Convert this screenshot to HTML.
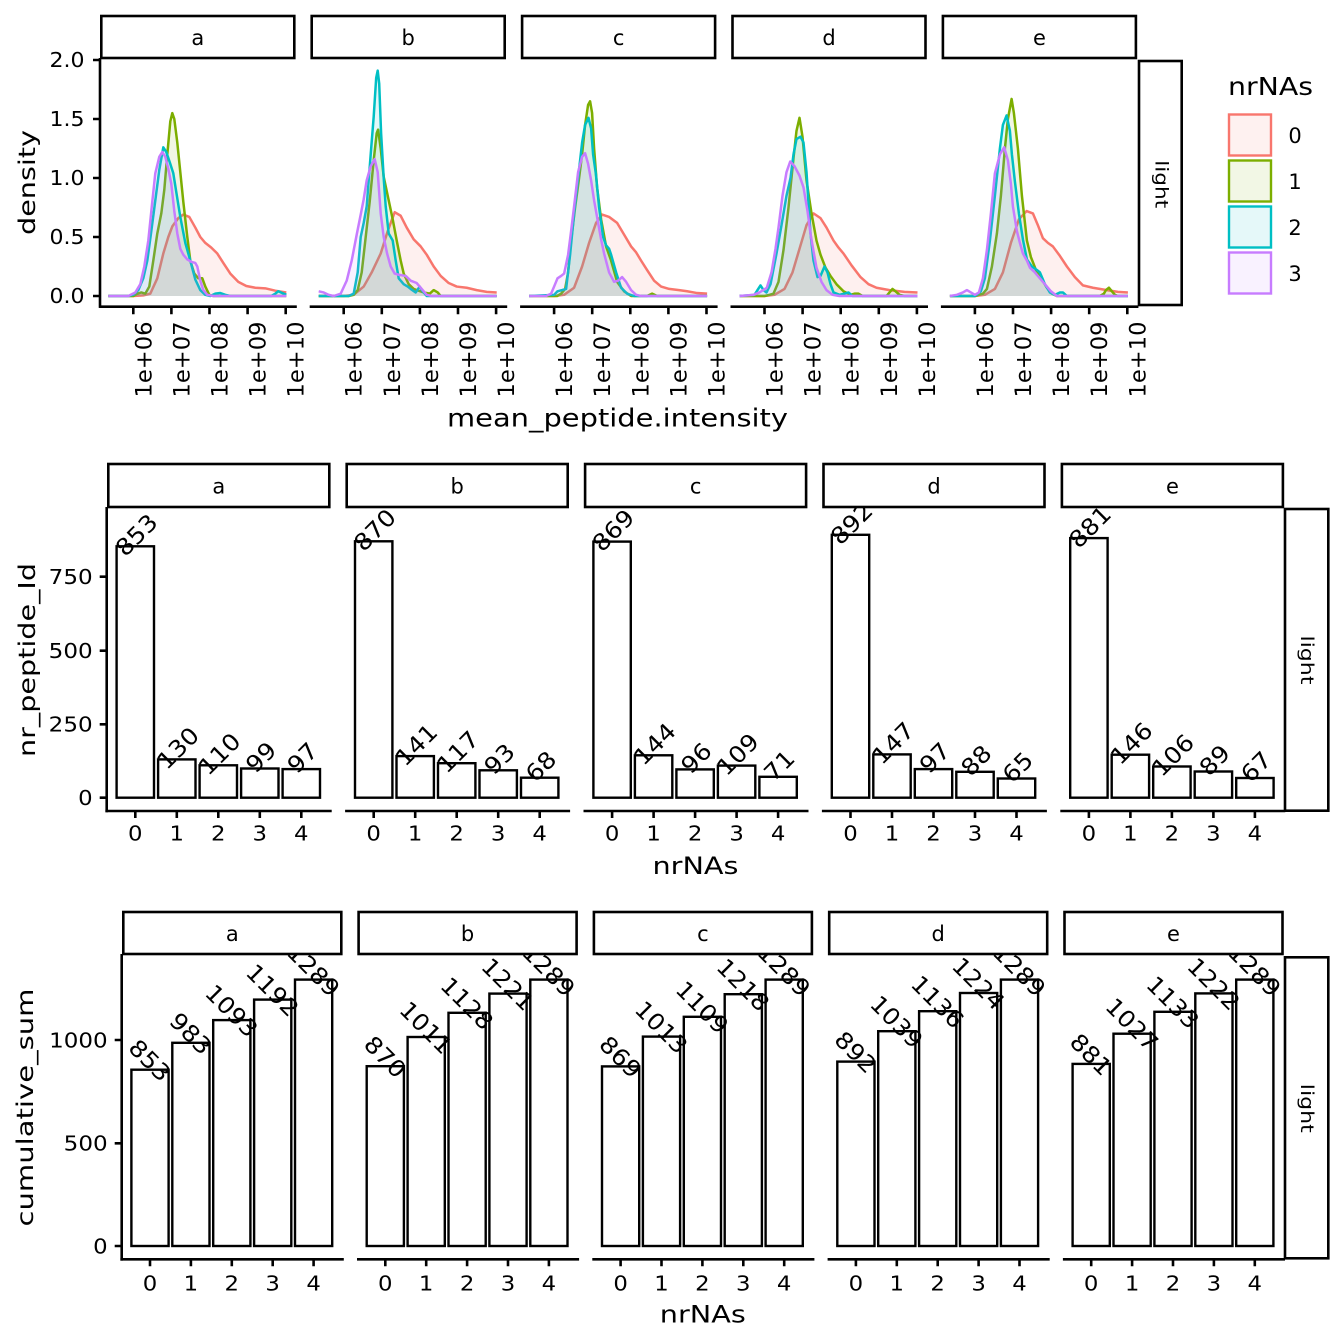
<!DOCTYPE html>
<html><head><meta charset="utf-8"><style>
html,body{margin:0;padding:0;background:#fff}
svg{display:block}
text{font-family:"DejaVu Sans","Liberation Sans",sans-serif;fill:#000}
.ax{stroke:#000;stroke-width:2.6;fill:none}
.sb{fill:#fff;stroke:#000;stroke-width:2.6}
.bar{fill:#fff;stroke:#000;stroke-width:2.4}
.t18{font-size:20px}
.t20{font-size:21px}
.t22{font-size:22.5px}
.bl{font-size:23px;text-anchor:middle}
.m{text-anchor:middle}
.e{text-anchor:end}
.f0{fill:#F8766D;fill-opacity:.11;stroke:none}
.f1{fill:#7CAE00;fill-opacity:.11;stroke:none}
.f2{fill:#00BFC4;fill-opacity:.11;stroke:none}
.f3{fill:#C77CFF;fill-opacity:.11;stroke:none}
.l0,.l1,.l2,.l3{fill:none;stroke-width:2.5;vector-effect:non-scaling-stroke;stroke-linejoin:round}
.l0{stroke:#F8766D}.l1{stroke:#7CAE00}.l2{stroke:#00BFC4}.l3{stroke:#C77CFF}
</style></head><body>
<svg width="1344" height="1344" viewBox="0 0 1344 1344" xmlns="http://www.w3.org/2000/svg">
<rect width="1344" height="1344" fill="#fff"/>
<defs>
<clipPath id="cm0"><rect x="108.3" y="507" width="221" height="304"/></clipPath>
<clipPath id="cm1"><rect x="346.7" y="507" width="221" height="304"/></clipPath>
<clipPath id="cm2"><rect x="585.1" y="507" width="221" height="304"/></clipPath>
<clipPath id="cm3"><rect x="823.5" y="507" width="221" height="304"/></clipPath>
<clipPath id="cm4"><rect x="1061.9" y="507" width="221" height="304"/></clipPath>
<clipPath id="cb0"><rect x="123.3" y="954" width="218" height="305"/></clipPath>
<clipPath id="cb1"><rect x="358.6" y="954" width="218" height="305"/></clipPath>
<clipPath id="cb2"><rect x="593.9" y="954" width="218" height="305"/></clipPath>
<clipPath id="cb3"><rect x="829.2" y="954" width="218" height="305"/></clipPath>
<clipPath id="cb4"><rect x="1064.5" y="954" width="218" height="305"/></clipPath>
</defs>

<!-- ================= TOP PLOT ================= -->
<g>
<rect class="sb" x="101.3" y="16" width="193" height="42"/>
<rect class="sb" x="311.7" y="16" width="193" height="42"/>
<rect class="sb" x="522.1" y="16" width="193" height="42"/>
<rect class="sb" x="732.5" y="16" width="193" height="42"/>
<rect class="sb" x="942.9" y="16" width="193" height="42"/>
<text class="t20 m" x="197.8" y="45">a</text>
<text class="t20 m" x="408.2" y="45">b</text>
<text class="t20 m" x="618.6" y="45">c</text>
<text class="t20 m" x="829" y="45">d</text>
<text class="t20 m" x="1039.4" y="45">e</text>
<rect class="sb" x="1139" y="61" width="42.7" height="244"/>
<text transform="translate(1155.5,184.2) rotate(90)" class="m" style="font-size:18px" textLength="48" lengthAdjust="spacingAndGlyphs">light</text>

<!-- density curves -->
<g transform="translate(133.3,296) scale(1,-118)">
<polygon class="f0" points="-25,0 0,0 10,0.005 17,0.02 24,0.15 30,0.36 35,0.5 39,0.59 45,0.66 50,0.69 56,0.67 62,0.58 67,0.5 72,0.45 78,0.41 84,0.36 90,0.28 97,0.19 105,0.12 113,0.085 122,0.07 132,0.065 142,0.045 153,0.03 153,0"/>
<polyline class="l0" points="-25,0 0,0 10,0.005 17,0.02 24,0.15 30,0.36 35,0.5 39,0.59 45,0.66 50,0.69 56,0.67 62,0.58 67,0.5 72,0.45 78,0.41 84,0.36 90,0.28 97,0.19 105,0.12 113,0.085 122,0.07 132,0.065 142,0.045 153,0.03"/>
<polygon class="f1" points="-25,0 0,0 4,0.02 8,0.03 12,0.02 16,0.08 20,0.3 24,0.53 28,0.7 31,0.9 34,1.2 37,1.48 39,1.55 41,1.5 44,1.3 47,1.05 50,0.8 54,0.5 57,0.3 61,0.19 65,0.15 69,0.15 72,0.08 76,0.01 80,0 153,0"/>
<polyline class="l1" points="-25,0 0,0 4,0.02 8,0.03 12,0.02 16,0.08 20,0.3 24,0.53 28,0.7 31,0.9 34,1.2 37,1.48 39,1.55 41,1.5 44,1.3 47,1.05 50,0.8 54,0.5 57,0.3 61,0.19 65,0.15 69,0.15 72,0.08 76,0.01 80,0 153,0"/>
<polygon class="f2" points="-25,0 -5,0 0,0.01 5,0.05 10,0.15 14,0.3 18,0.55 22,0.81 26,1.07 30,1.26 33,1.22 37,1.12 40,1.04 43,0.88 47,0.67 52,0.45 57,0.3 62,0.14 67,0.05 72,0.01 77,0 82,0.02 87,0.025 92,0.01 97,0 138,0 142,0.02 145,0.04 149,0.025 153,0.01 153,0"/>
<polyline class="l2" points="-25,0 -5,0 0,0.01 5,0.05 10,0.15 14,0.3 18,0.55 22,0.81 26,1.07 30,1.26 33,1.22 37,1.12 40,1.04 43,0.88 47,0.67 52,0.45 57,0.3 62,0.14 67,0.05 72,0.01 77,0 82,0.02 87,0.025 92,0.01 97,0 138,0 142,0.02 145,0.04 149,0.025 153,0.01"/>
<polygon class="f3" points="-25,0 -5,0 2,0.03 7,0.1 11,0.25 15,0.47 19,0.8 22,1.04 26,1.18 29,1.22 32,1.18 35,1.08 38,0.95 41,0.72 44,0.53 47,0.4 50,0.35 54,0.31 58,0.29 62,0.28 64,0.25 67,0.13 70,0.05 74,0.01 80,0 153,0"/>
<polyline class="l3" points="-25,0 -5,0 2,0.03 7,0.1 11,0.25 15,0.47 19,0.8 22,1.04 26,1.18 29,1.22 32,1.18 35,1.08 38,0.95 41,0.72 44,0.53 47,0.4 50,0.35 54,0.31 58,0.29 62,0.28 64,0.25 67,0.13 70,0.05 74,0.01 80,0 153,0"/>
</g>
<g transform="translate(343.7,296) scale(1,-118)">
<polygon class="f0" points="-25,0 0,0 10,0.01 20,0.08 28,0.2 37,0.36 44,0.55 51,0.71 57,0.68 63,0.58 70,0.48 77,0.42 83,0.35 90,0.25 97,0.17 105,0.11 113,0.08 123,0.07 133,0.05 143,0.035 153,0.03 153,0"/>
<polyline class="l0" points="-25,0 0,0 10,0.01 20,0.08 28,0.2 37,0.36 44,0.55 51,0.71 57,0.68 63,0.58 70,0.48 77,0.42 83,0.35 90,0.25 97,0.17 105,0.11 113,0.08 123,0.07 133,0.05 143,0.035 153,0.03"/>
<polygon class="f1" points="-25,0 5,0 10,0.01 14,0.05 18,0.2 22,0.5 26,0.8 30,1.15 33,1.38 34.4,1.41 37,1.25 40,1.01 45,0.81 49,0.65 53,0.47 57,0.3 60,0.19 65,0.1 70,0.06 73,0.05 80,0.03 86,0.02 90,0.05 94,0.03 97,0 153,0"/>
<polyline class="l1" points="-25,0 5,0 10,0.01 14,0.05 18,0.2 22,0.5 26,0.8 30,1.15 33,1.38 34.4,1.41 37,1.25 40,1.01 45,0.81 49,0.65 53,0.47 57,0.3 60,0.19 65,0.1 70,0.06 73,0.05 80,0.03 86,0.02 90,0.05 94,0.03 97,0 153,0"/>
<polygon class="f2" points="-25,0 5,0 10,0.02 14,0.2 17,0.5 20,0.62 23,0.76 27,1.2 30,1.52 32.5,1.85 34,1.91 35.5,1.8 37.4,1.38 40,1 42,0.76 45,0.53 47,0.5 49,0.47 52,0.3 55,0.15 60,0.1 64,0.08 67,0.06 72,0.03 76,0.08 79,0.04 83,0 153,0"/>
<polyline class="l2" points="-25,0 5,0 10,0.02 14,0.2 17,0.5 20,0.62 23,0.76 27,1.2 30,1.52 32.5,1.85 34,1.91 35.5,1.8 37.4,1.38 40,1 42,0.76 45,0.53 47,0.5 49,0.47 52,0.3 55,0.15 60,0.1 64,0.08 67,0.06 72,0.03 76,0.08 79,0.04 83,0 153,0"/>
<polygon class="f3" points="-25,0.04 -20,0.03 -15,0.01 -10,0 -3,0.02 3,0.13 8,0.3 13,0.52 17,0.69 20,0.82 23,0.98 27,1.1 31,1.16 34,1.05 37,0.7 40,0.5 43.4,0.36 47,0.25 51,0.19 55,0.18 62,0.17 67,0.13 73,0.11 78,0.06 83,0.01 88,0 153,0 -25,0"/>
<polyline class="l3" points="-25,0.04 -20,0.03 -15,0.01 -10,0 -3,0.02 3,0.13 8,0.3 13,0.52 17,0.69 20,0.82 23,0.98 27,1.1 31,1.16 34,1.05 37,0.7 40,0.5 43.4,0.36 47,0.25 51,0.19 55,0.18 62,0.17 67,0.13 73,0.11 78,0.06 83,0.01 88,0 153,0"/>
</g>
<g transform="translate(554.1,296) scale(1,-118)">
<polygon class="f0" points="-25,0 0,0 10,0.01 20,0.07 28,0.25 35,0.45 42,0.62 48,0.69 55,0.67 63,0.62 70,0.52 77,0.42 82,0.37 87,0.3 93,0.22 100,0.13 107,0.08 115,0.06 125,0.05 133,0.04 143,0.025 153,0.02 153,0"/>
<polyline class="l0" points="-25,0 0,0 10,0.01 20,0.07 28,0.25 35,0.45 42,0.62 48,0.69 55,0.67 63,0.62 70,0.52 77,0.42 82,0.37 87,0.3 93,0.22 100,0.13 107,0.08 115,0.06 125,0.05 133,0.04 143,0.025 153,0.02"/>
<polygon class="f1" points="-25,0 3,0 7,0.02 11,0.06 14,0.2 17,0.47 21,0.75 25,1 28,1.2 31,1.45 34,1.62 36,1.65 38,1.55 40,1.25 43,0.92 47,0.65 52,0.42 57,0.3 63,0.12 70,0.04 77,0 93,0 98,0.02 103,0 153,0"/>
<polyline class="l1" points="-25,0 3,0 7,0.02 11,0.06 14,0.2 17,0.47 21,0.75 25,1 28,1.2 31,1.45 34,1.62 36,1.65 38,1.55 40,1.25 43,0.92 47,0.65 52,0.42 57,0.3 63,0.12 70,0.04 77,0 93,0 98,0.02 103,0 153,0"/>
<polygon class="f2" points="-25,0 0,0.01 3.4,0.04 8,0.05 12,0.06 16,0.35 20,0.7 24,1 28,1.3 31,1.45 34.4,1.51 37,1.42 39,1.2 41.7,1.04 45,0.75 49,0.5 52,0.43 55,0.4 57,0.35 62,0.2 67,0.07 73,0.02 80,0 153,0"/>
<polyline class="l2" points="-25,0 0,0.01 3.4,0.04 8,0.05 12,0.06 16,0.35 20,0.7 24,1 28,1.3 31,1.45 34.4,1.51 37,1.42 39,1.2 41.7,1.04 45,0.75 49,0.5 52,0.43 55,0.4 57,0.35 62,0.2 67,0.07 73,0.02 80,0 153,0"/>
<polygon class="f3" points="-25,0 -8,0 -3,0.02 0,0.08 3.4,0.15 7,0.17 10,0.19 14,0.35 17,0.55 20,0.76 24,1.05 28,1.18 31,1.21 34,1.12 37,0.98 40,0.81 44,0.62 47,0.48 50,0.36 55,0.2 60,0.12 64,0.13 68,0.16 72,0.12 77,0.05 82,0.01 87,0 153,0"/>
<polyline class="l3" points="-25,0 -8,0 -3,0.02 0,0.08 3.4,0.15 7,0.17 10,0.19 14,0.35 17,0.55 20,0.76 24,1.05 28,1.18 31,1.21 34,1.12 37,0.98 40,0.81 44,0.62 47,0.48 50,0.36 55,0.2 60,0.12 64,0.13 68,0.16 72,0.12 77,0.05 82,0.01 87,0 153,0"/>
</g>
<g transform="translate(764.5,296) scale(1,-118)">
<polygon class="f0" points="-25,0 0,0 10,0.01 20,0.06 28,0.2 35,0.4 42,0.6 49,0.7 56,0.66 62,0.58 69,0.47 74,0.41 79,0.36 87,0.26 96,0.16 104,0.1 112,0.07 125,0.05 140,0.035 153,0.03 153,0"/>
<polyline class="l0" points="-25,0 0,0 10,0.01 20,0.06 28,0.2 35,0.4 42,0.6 49,0.7 56,0.66 62,0.58 69,0.47 74,0.41 79,0.36 87,0.26 96,0.16 104,0.1 112,0.07 125,0.05 140,0.035 153,0.03"/>
<polygon class="f1" points="-25,0 0,0 5,0.01 9,0.02 14,0.12 19,0.39 24,0.75 29,1.17 32,1.4 35,1.51 38,1.35 42,0.98 47,0.7 52,0.47 56,0.35 61,0.24 66,0.17 72,0.1 79,0.04 86,0.01 90,0.02 94,0.02 98,0 122,0 125,0.03 128,0.06 131,0.04 135,0.01 140,0 153,0"/>
<polyline class="l1" points="-25,0 0,0 5,0.01 9,0.02 14,0.12 19,0.39 24,0.75 29,1.17 32,1.4 35,1.51 38,1.35 42,0.98 47,0.7 52,0.47 56,0.35 61,0.24 66,0.17 72,0.1 79,0.04 86,0.01 90,0.02 94,0.02 98,0 122,0 125,0.03 128,0.06 131,0.04 135,0.01 140,0 153,0"/>
<polygon class="f2" points="-25,0 -10,0.01 -7,0.05 -4,0.09 -1,0.05 2,0.03 6,0.1 12,0.36 17,0.6 22,0.85 26,1 29,1.2 32,1.33 36,1.35 39,1.3 42,1.05 46,0.53 49,0.3 53,0.16 56,0.17 60,0.25 63,0.2 66,0.1 69,0.03 75,0.01 80,0.02 84,0.03 88,0 153,0"/>
<polyline class="l2" points="-25,0 -10,0.01 -7,0.05 -4,0.09 -1,0.05 2,0.03 6,0.1 12,0.36 17,0.6 22,0.85 26,1 29,1.2 32,1.33 36,1.35 39,1.3 42,1.05 46,0.53 49,0.3 53,0.16 56,0.17 60,0.25 63,0.2 66,0.1 69,0.03 75,0.01 80,0.02 84,0.03 88,0 153,0"/>
<polygon class="f3" points="-25,0 -11,0.01 -5,0.03 2.3,0.07 7,0.2 11,0.4 14,0.58 18,0.85 22,1.05 25.7,1.14 30,1.1 35,1.02 39,0.92 43,0.72 46,0.53 49,0.38 52,0.24 57,0.12 62,0.05 68,0.01 75,0 153,0"/>
<polyline class="l3" points="-25,0 -11,0.01 -5,0.03 2.3,0.07 7,0.2 11,0.4 14,0.58 18,0.85 22,1.05 25.7,1.14 30,1.1 35,1.02 39,0.92 43,0.72 46,0.53 49,0.38 52,0.24 57,0.12 62,0.05 68,0.01 75,0 153,0"/>
</g>
<g transform="translate(974.9,296) scale(1,-118)">
<polygon class="f0" points="-25,0 0,0 10,0.01 20,0.06 28,0.2 36,0.45 44,0.65 51.7,0.72 58,0.7 63,0.6 68,0.49 73,0.45 78,0.42 85,0.34 92,0.25 100,0.16 108,0.09 118,0.07 132,0.05 143,0.035 153,0.03 153,0"/>
<polyline class="l0" points="-25,0 0,0 10,0.01 20,0.06 28,0.2 36,0.45 44,0.65 51.7,0.72 58,0.7 63,0.6 68,0.49 73,0.45 78,0.42 85,0.34 92,0.25 100,0.16 108,0.09 118,0.07 132,0.05 143,0.035 153,0.03"/>
<polygon class="f1" points="-25,0 0,0 4,0.01 8,0.02 12,0.06 17,0.25 22,0.53 26,0.85 30,1.25 33,1.5 36.7,1.67 39,1.55 41,1.4 43,1.25 47,0.85 52,0.47 56,0.33 62,0.2 67,0.14 72,0.07 77,0.02 82,0 125,0 129,0.02 131,0.05 134,0.07 137,0.04 140,0.01 143,0 153,0"/>
<polyline class="l1" points="-25,0 0,0 4,0.01 8,0.02 12,0.06 17,0.25 22,0.53 26,0.85 30,1.25 33,1.5 36.7,1.67 39,1.55 41,1.4 43,1.25 47,0.85 52,0.47 56,0.33 62,0.2 67,0.14 72,0.07 77,0.02 82,0 125,0 129,0.02 131,0.05 134,0.07 137,0.04 140,0.01 143,0 153,0"/>
<polygon class="f2" points="-25,0 0,0 1.7,0.01 6,0.04 10,0.15 15,0.47 20,0.85 25,1.25 28,1.45 31.7,1.53 35,1.4 37,1.2 40,0.97 44,0.7 48,0.48 52,0.31 57,0.25 62,0.22 65,0.2 70,0.1 75,0.03 80,0.01 85,0.03 88,0.03 92,0 153,0"/>
<polyline class="l2" points="-25,0 0,0 1.7,0.01 6,0.04 10,0.15 15,0.47 20,0.85 25,1.25 28,1.45 31.7,1.53 35,1.4 37,1.2 40,0.97 44,0.7 48,0.48 52,0.31 57,0.25 62,0.22 65,0.2 70,0.1 75,0.03 80,0.01 85,0.03 88,0.03 92,0 153,0"/>
<polygon class="f3" points="-25,0 -18,0.01 -12,0.03 -8,0.05 -4,0.03 0,0.01 4,0.03 8,0.15 12,0.39 16,0.7 20,1.04 25,1.2 29.3,1.26 33,1.15 36,0.95 38,0.76 42,0.55 45,0.45 48,0.36 52,0.3 55,0.24 60,0.2 65,0.15 70,0.1 76,0.04 82,0 153,0"/>
<polyline class="l3" points="-25,0 -18,0.01 -12,0.03 -8,0.05 -4,0.03 0,0.01 4,0.03 8,0.15 12,0.39 16,0.7 20,1.04 25,1.2 29.3,1.26 33,1.15 36,0.95 38,0.76 42,0.55 45,0.45 48,0.36 52,0.3 55,0.24 60,0.2 65,0.15 70,0.1 76,0.04 82,0 153,0"/>
</g>

<!-- top axes -->
<path class="ax" d="M100,58V307.9 M93,60H100 M93,119H100 M93,178H100 M93,237H100 M93,296H100"/>
<path class="ax" d="M99.3,306.7H296.8 M309.7,306.7H507.2 M520.1,306.7H717.6 M730.5,306.7H928 M940.9,306.7H1138.4"/>
<path class="ax" d="M133.3,306.7v7.5 M171.4,306.7v7.5 M209.5,306.7v7.5 M247.6,306.7v7.5 M285.7,306.7v7.5 M343.7,306.7v7.5 M381.8,306.7v7.5 M419.9,306.7v7.5 M458,306.7v7.5 M496.1,306.7v7.5 M554.1,306.7v7.5 M592.2,306.7v7.5 M630.3,306.7v7.5 M668.4,306.7v7.5 M706.5,306.7v7.5 M764.5,306.7v7.5 M802.6,306.7v7.5 M840.7,306.7v7.5 M878.8,306.7v7.5 M916.9,306.7v7.5 M974.9,306.7v7.5 M1013,306.7v7.5 M1051.1,306.7v7.5 M1089.2,306.7v7.5 M1127.3,306.7v7.5"/>
<g class="t18 e">
<text x="84.5" y="67.2" textLength="35" lengthAdjust="spacingAndGlyphs">2.0</text>
<text x="84.5" y="126.2" textLength="35" lengthAdjust="spacingAndGlyphs">1.5</text>
<text x="84.5" y="185.2" textLength="35" lengthAdjust="spacingAndGlyphs">1.0</text>
<text x="84.5" y="244.2" textLength="35" lengthAdjust="spacingAndGlyphs">0.5</text>
<text x="84.5" y="303.2" textLength="35" lengthAdjust="spacingAndGlyphs">0.0</text>
</g>
<g class="t22 e">
<text transform="translate(151.3,321.5) rotate(-90)" textLength="76" lengthAdjust="spacingAndGlyphs">1e+06</text>
<text transform="translate(189.4,321.5) rotate(-90)" textLength="76" lengthAdjust="spacingAndGlyphs">1e+07</text>
<text transform="translate(227.5,321.5) rotate(-90)" textLength="76" lengthAdjust="spacingAndGlyphs">1e+08</text>
<text transform="translate(265.6,321.5) rotate(-90)" textLength="76" lengthAdjust="spacingAndGlyphs">1e+09</text>
<text transform="translate(303.7,321.5) rotate(-90)" textLength="76" lengthAdjust="spacingAndGlyphs">1e+10</text>
<text transform="translate(361.7,321.5) rotate(-90)" textLength="76" lengthAdjust="spacingAndGlyphs">1e+06</text>
<text transform="translate(399.8,321.5) rotate(-90)" textLength="76" lengthAdjust="spacingAndGlyphs">1e+07</text>
<text transform="translate(437.9,321.5) rotate(-90)" textLength="76" lengthAdjust="spacingAndGlyphs">1e+08</text>
<text transform="translate(476,321.5) rotate(-90)" textLength="76" lengthAdjust="spacingAndGlyphs">1e+09</text>
<text transform="translate(514.1,321.5) rotate(-90)" textLength="76" lengthAdjust="spacingAndGlyphs">1e+10</text>
<text transform="translate(572.1,321.5) rotate(-90)" textLength="76" lengthAdjust="spacingAndGlyphs">1e+06</text>
<text transform="translate(610.2,321.5) rotate(-90)" textLength="76" lengthAdjust="spacingAndGlyphs">1e+07</text>
<text transform="translate(648.3,321.5) rotate(-90)" textLength="76" lengthAdjust="spacingAndGlyphs">1e+08</text>
<text transform="translate(686.4,321.5) rotate(-90)" textLength="76" lengthAdjust="spacingAndGlyphs">1e+09</text>
<text transform="translate(724.5,321.5) rotate(-90)" textLength="76" lengthAdjust="spacingAndGlyphs">1e+10</text>
<text transform="translate(782.5,321.5) rotate(-90)" textLength="76" lengthAdjust="spacingAndGlyphs">1e+06</text>
<text transform="translate(820.6,321.5) rotate(-90)" textLength="76" lengthAdjust="spacingAndGlyphs">1e+07</text>
<text transform="translate(858.7,321.5) rotate(-90)" textLength="76" lengthAdjust="spacingAndGlyphs">1e+08</text>
<text transform="translate(896.8,321.5) rotate(-90)" textLength="76" lengthAdjust="spacingAndGlyphs">1e+09</text>
<text transform="translate(934.9,321.5) rotate(-90)" textLength="76" lengthAdjust="spacingAndGlyphs">1e+10</text>
<text transform="translate(992.9,321.5) rotate(-90)" textLength="76" lengthAdjust="spacingAndGlyphs">1e+06</text>
<text transform="translate(1031,321.5) rotate(-90)" textLength="76" lengthAdjust="spacingAndGlyphs">1e+07</text>
<text transform="translate(1069.1,321.5) rotate(-90)" textLength="76" lengthAdjust="spacingAndGlyphs">1e+08</text>
<text transform="translate(1107.2,321.5) rotate(-90)" textLength="76" lengthAdjust="spacingAndGlyphs">1e+09</text>
<text transform="translate(1145.3,321.5) rotate(-90)" textLength="76" lengthAdjust="spacingAndGlyphs">1e+10</text>
</g>
<text transform="translate(35,182.5) rotate(-90)" class="m" style="font-size:23px" textLength="105" lengthAdjust="spacingAndGlyphs">density</text>
<text x="617.5" y="426.5" class="m" style="font-size:25px" textLength="341" lengthAdjust="spacingAndGlyphs">mean_peptide.intensity</text>

<!-- legend -->
<text x="1228" y="95" style="font-size:24.5px" textLength="85" lengthAdjust="spacingAndGlyphs">nrNAs</text>
<rect x="1229" y="114.5" width="42" height="41" fill="#F8766D" fill-opacity=".1" stroke="#F8766D" stroke-width="2.4"/>
<rect x="1229" y="160.5" width="42" height="41" fill="#7CAE00" fill-opacity=".1" stroke="#7CAE00" stroke-width="2.4"/>
<rect x="1229" y="206.5" width="42" height="41" fill="#00BFC4" fill-opacity=".1" stroke="#00BFC4" stroke-width="2.4"/>
<rect x="1229" y="252.5" width="42" height="41" fill="#C77CFF" fill-opacity=".1" stroke="#C77CFF" stroke-width="2.4"/>
<g class="m" style="font-size:21px">
<text x="1295" y="143">0</text>
<text x="1295" y="189">1</text>
<text x="1295" y="235">2</text>
<text x="1295" y="281">3</text>
</g>
</g>

<!-- ================= MIDDLE PLOT ================= -->
<g>
<rect class="sb" x="108.3" y="464" width="221" height="43"/>
<rect class="sb" x="346.7" y="464" width="221" height="43"/>
<rect class="sb" x="585.1" y="464" width="221" height="43"/>
<rect class="sb" x="823.5" y="464" width="221" height="43"/>
<rect class="sb" x="1061.9" y="464" width="221" height="43"/>
<text class="t20 m" x="218.8" y="493.5">a</text>
<text class="t20 m" x="457.2" y="493.5">b</text>
<text class="t20 m" x="695.6" y="493.5">c</text>
<text class="t20 m" x="934" y="493.5">d</text>
<text class="t20 m" x="1172.4" y="493.5">e</text>
<rect class="sb" x="1285" y="509" width="43.3" height="301.7"/>
<text transform="translate(1300.8,660) rotate(90)" class="m" style="font-size:18px" textLength="49" lengthAdjust="spacingAndGlyphs">light</text>

<!-- bars -->
<rect class="bar" x="116.6" y="546.3" width="37.4" height="251.4"/>
<rect class="bar" x="158.1" y="759.4" width="37.4" height="38.3"/>
<rect class="bar" x="199.6" y="765.3" width="37.4" height="32.4"/>
<rect class="bar" x="241.1" y="768.5" width="37.4" height="29.2"/>
<rect class="bar" x="282.6" y="769.1" width="37.4" height="28.6"/>
<rect class="bar" x="355" y="541.3" width="37.4" height="256.4"/>
<rect class="bar" x="396.5" y="756.1" width="37.4" height="41.6"/>
<rect class="bar" x="438" y="763.2" width="37.4" height="34.5"/>
<rect class="bar" x="479.5" y="770.3" width="37.4" height="27.4"/>
<rect class="bar" x="521" y="777.7" width="37.4" height="20"/>
<rect class="bar" x="593.4" y="541.6" width="37.4" height="256.1"/>
<rect class="bar" x="634.9" y="755.3" width="37.4" height="42.4"/>
<rect class="bar" x="676.4" y="769.4" width="37.4" height="28.3"/>
<rect class="bar" x="717.9" y="765.6" width="37.4" height="32.1"/>
<rect class="bar" x="759.4" y="776.8" width="37.4" height="20.9"/>
<rect class="bar" x="831.8" y="534.8" width="37.4" height="262.9"/>
<rect class="bar" x="873.3" y="754.4" width="37.4" height="43.3"/>
<rect class="bar" x="914.8" y="769.1" width="37.4" height="28.6"/>
<rect class="bar" x="956.3" y="771.8" width="37.4" height="25.9"/>
<rect class="bar" x="997.8" y="778.5" width="37.4" height="19.2"/>
<rect class="bar" x="1070.2" y="538.1" width="37.4" height="259.6"/>
<rect class="bar" x="1111.7" y="754.7" width="37.4" height="43"/>
<rect class="bar" x="1153.2" y="766.5" width="37.4" height="31.2"/>
<rect class="bar" x="1194.7" y="771.5" width="37.4" height="26.2"/>
<rect class="bar" x="1236.2" y="778" width="37.4" height="19.7"/>

<!-- bar labels -->
<g clip-path="url(#cm0)">
<text class="bl" transform="translate(136.3,534.8) rotate(-45)" y="8.3" textLength="48" lengthAdjust="spacingAndGlyphs">853</text>
<text class="bl" transform="translate(177.8,747.9) rotate(-45)" y="8.3" textLength="48" lengthAdjust="spacingAndGlyphs">130</text>
<text class="bl" transform="translate(219.3,753.8) rotate(-45)" y="8.3" textLength="48" lengthAdjust="spacingAndGlyphs">110</text>
<text class="bl" transform="translate(260.8,757) rotate(-45)" y="8.3" textLength="32" lengthAdjust="spacingAndGlyphs">99</text>
<text class="bl" transform="translate(302.3,757.6) rotate(-45)" y="8.3" textLength="32" lengthAdjust="spacingAndGlyphs">97</text>
</g>
<g clip-path="url(#cm1)">
<text class="bl" transform="translate(374.7,529.8) rotate(-45)" y="8.3" textLength="48" lengthAdjust="spacingAndGlyphs">870</text>
<text class="bl" transform="translate(416.2,744.6) rotate(-45)" y="8.3" textLength="48" lengthAdjust="spacingAndGlyphs">141</text>
<text class="bl" transform="translate(457.7,751.7) rotate(-45)" y="8.3" textLength="48" lengthAdjust="spacingAndGlyphs">117</text>
<text class="bl" transform="translate(499.2,758.8) rotate(-45)" y="8.3" textLength="32" lengthAdjust="spacingAndGlyphs">93</text>
<text class="bl" transform="translate(540.7,766.2) rotate(-45)" y="8.3" textLength="32" lengthAdjust="spacingAndGlyphs">68</text>
</g>
<g clip-path="url(#cm2)">
<text class="bl" transform="translate(613.1,530.1) rotate(-45)" y="8.3" textLength="48" lengthAdjust="spacingAndGlyphs">869</text>
<text class="bl" transform="translate(654.6,743.8) rotate(-45)" y="8.3" textLength="48" lengthAdjust="spacingAndGlyphs">144</text>
<text class="bl" transform="translate(696.1,757.9) rotate(-45)" y="8.3" textLength="32" lengthAdjust="spacingAndGlyphs">96</text>
<text class="bl" transform="translate(737.6,754.1) rotate(-45)" y="8.3" textLength="48" lengthAdjust="spacingAndGlyphs">109</text>
<text class="bl" transform="translate(779.1,765.3) rotate(-45)" y="8.3" textLength="32" lengthAdjust="spacingAndGlyphs">71</text>
</g>
<g clip-path="url(#cm3)">
<text class="bl" transform="translate(851.5,523.3) rotate(-45)" y="8.3" textLength="48" lengthAdjust="spacingAndGlyphs">892</text>
<text class="bl" transform="translate(893,742.9) rotate(-45)" y="8.3" textLength="48" lengthAdjust="spacingAndGlyphs">147</text>
<text class="bl" transform="translate(934.5,757.6) rotate(-45)" y="8.3" textLength="32" lengthAdjust="spacingAndGlyphs">97</text>
<text class="bl" transform="translate(976,760.3) rotate(-45)" y="8.3" textLength="32" lengthAdjust="spacingAndGlyphs">88</text>
<text class="bl" transform="translate(1017.5,767) rotate(-45)" y="8.3" textLength="32" lengthAdjust="spacingAndGlyphs">65</text>
</g>
<g clip-path="url(#cm4)">
<text class="bl" transform="translate(1089.9,526.6) rotate(-45)" y="8.3" textLength="48" lengthAdjust="spacingAndGlyphs">881</text>
<text class="bl" transform="translate(1131.4,743.2) rotate(-45)" y="8.3" textLength="48" lengthAdjust="spacingAndGlyphs">146</text>
<text class="bl" transform="translate(1172.9,755) rotate(-45)" y="8.3" textLength="48" lengthAdjust="spacingAndGlyphs">106</text>
<text class="bl" transform="translate(1214.4,760) rotate(-45)" y="8.3" textLength="32" lengthAdjust="spacingAndGlyphs">89</text>
<text class="bl" transform="translate(1255.9,766.5) rotate(-45)" y="8.3" textLength="32" lengthAdjust="spacingAndGlyphs">67</text>
</g>

<!-- middle axes -->
<path class="ax" d="M106.7,507V812.3 M99.7,576.7H106.7 M99.7,650.7H106.7 M99.7,724.3H106.7 M99.7,797.7H106.7"/>
<path class="ax" d="M105.4,811H331.7 M345.1,811H570.1 M583.5,811H808.5 M821.9,811H1046.9 M1060.3,811H1285.3"/>
<path class="ax" d="M135.3,811v7 M176.8,811v7 M218.3,811v7 M259.8,811v7 M301.3,811v7 M373.7,811v7 M415.2,811v7 M456.7,811v7 M498.2,811v7 M539.7,811v7 M612.1,811v7 M653.6,811v7 M695.1,811v7 M736.6,811v7 M778.1,811v7 M850.5,811v7 M892,811v7 M933.5,811v7 M975,811v7 M1016.5,811v7 M1088.9,811v7 M1130.4,811v7 M1171.9,811v7 M1213.4,811v7 M1254.9,811v7"/>
<g class="t18 e">
<text x="92.7" y="583.8" textLength="44" lengthAdjust="spacingAndGlyphs">750</text>
<text x="92.7" y="657.8" textLength="44" lengthAdjust="spacingAndGlyphs">500</text>
<text x="92.7" y="731.4" textLength="44" lengthAdjust="spacingAndGlyphs">250</text>
<text x="92.7" y="804.8" textLength="14.5" lengthAdjust="spacingAndGlyphs">0</text>
</g>
<g class="t18 m">
<text x="135.3" y="840.5" textLength="14.5" lengthAdjust="spacingAndGlyphs">0</text>
<text x="176.8" y="840.5" textLength="14.5" lengthAdjust="spacingAndGlyphs">1</text>
<text x="218.3" y="840.5" textLength="14.5" lengthAdjust="spacingAndGlyphs">2</text>
<text x="259.8" y="840.5" textLength="14.5" lengthAdjust="spacingAndGlyphs">3</text>
<text x="301.3" y="840.5" textLength="14.5" lengthAdjust="spacingAndGlyphs">4</text>
<text x="373.7" y="840.5" textLength="14.5" lengthAdjust="spacingAndGlyphs">0</text>
<text x="415.2" y="840.5" textLength="14.5" lengthAdjust="spacingAndGlyphs">1</text>
<text x="456.7" y="840.5" textLength="14.5" lengthAdjust="spacingAndGlyphs">2</text>
<text x="498.2" y="840.5" textLength="14.5" lengthAdjust="spacingAndGlyphs">3</text>
<text x="539.7" y="840.5" textLength="14.5" lengthAdjust="spacingAndGlyphs">4</text>
<text x="612.1" y="840.5" textLength="14.5" lengthAdjust="spacingAndGlyphs">0</text>
<text x="653.6" y="840.5" textLength="14.5" lengthAdjust="spacingAndGlyphs">1</text>
<text x="695.1" y="840.5" textLength="14.5" lengthAdjust="spacingAndGlyphs">2</text>
<text x="736.6" y="840.5" textLength="14.5" lengthAdjust="spacingAndGlyphs">3</text>
<text x="778.1" y="840.5" textLength="14.5" lengthAdjust="spacingAndGlyphs">4</text>
<text x="850.5" y="840.5" textLength="14.5" lengthAdjust="spacingAndGlyphs">0</text>
<text x="892" y="840.5" textLength="14.5" lengthAdjust="spacingAndGlyphs">1</text>
<text x="933.5" y="840.5" textLength="14.5" lengthAdjust="spacingAndGlyphs">2</text>
<text x="975" y="840.5" textLength="14.5" lengthAdjust="spacingAndGlyphs">3</text>
<text x="1016.5" y="840.5" textLength="14.5" lengthAdjust="spacingAndGlyphs">4</text>
<text x="1088.9" y="840.5" textLength="14.5" lengthAdjust="spacingAndGlyphs">0</text>
<text x="1130.4" y="840.5" textLength="14.5" lengthAdjust="spacingAndGlyphs">1</text>
<text x="1171.9" y="840.5" textLength="14.5" lengthAdjust="spacingAndGlyphs">2</text>
<text x="1213.4" y="840.5" textLength="14.5" lengthAdjust="spacingAndGlyphs">3</text>
<text x="1254.9" y="840.5" textLength="14.5" lengthAdjust="spacingAndGlyphs">4</text>
</g>
<text transform="translate(35,660) rotate(-90)" class="m" style="font-size:23px" textLength="194" lengthAdjust="spacingAndGlyphs">nr_peptide_Id</text>
<text x="695.5" y="874" class="m" style="font-size:24px" textLength="86" lengthAdjust="spacingAndGlyphs">nrNAs</text>
</g>

<!-- ================= BOTTOM PLOT ================= -->
<g>
<rect class="sb" x="123.3" y="912" width="218" height="42"/>
<rect class="sb" x="358.6" y="912" width="218" height="42"/>
<rect class="sb" x="593.9" y="912" width="218" height="42"/>
<rect class="sb" x="829.2" y="912" width="218" height="42"/>
<rect class="sb" x="1064.5" y="912" width="218" height="42"/>
<text class="t20 m" x="232.3" y="941">a</text>
<text class="t20 m" x="467.6" y="941">b</text>
<text class="t20 m" x="702.9" y="941">c</text>
<text class="t20 m" x="938.2" y="941">d</text>
<text class="t20 m" x="1173.5" y="941">e</text>
<rect class="sb" x="1285" y="957.3" width="43.3" height="301"/>
<text transform="translate(1300.8,1108.3) rotate(90)" class="m" style="font-size:18px" textLength="49" lengthAdjust="spacingAndGlyphs">light</text>

<rect class="bar" x="131.4" y="1069.7" width="37.2" height="176.3"/>
<rect class="bar" x="172.3" y="1042.8" width="37.2" height="203.2"/>
<rect class="bar" x="213.2" y="1020.1" width="37.2" height="225.9"/>
<rect class="bar" x="254.1" y="999.6" width="37.2" height="246.4"/>
<rect class="bar" x="295" y="979.6" width="37.2" height="266.4"/>
<rect class="bar" x="366.7" y="1066.2" width="37.2" height="179.8"/>
<rect class="bar" x="407.6" y="1037" width="37.2" height="209"/>
<rect class="bar" x="448.5" y="1012.8" width="37.2" height="233.2"/>
<rect class="bar" x="489.4" y="993.6" width="37.2" height="252.4"/>
<rect class="bar" x="530.3" y="979.6" width="37.2" height="266.4"/>
<rect class="bar" x="602" y="1066.4" width="37.2" height="179.6"/>
<rect class="bar" x="642.9" y="1036.6" width="37.2" height="209.4"/>
<rect class="bar" x="683.8" y="1016.8" width="37.2" height="229.2"/>
<rect class="bar" x="724.7" y="994.2" width="37.2" height="251.8"/>
<rect class="bar" x="765.6" y="979.6" width="37.2" height="266.4"/>
<rect class="bar" x="837.3" y="1061.6" width="37.2" height="184.4"/>
<rect class="bar" x="878.2" y="1031.2" width="37.2" height="214.8"/>
<rect class="bar" x="919.1" y="1011.2" width="37.2" height="234.8"/>
<rect class="bar" x="960" y="993" width="37.2" height="253"/>
<rect class="bar" x="1000.9" y="979.6" width="37.2" height="266.4"/>
<rect class="bar" x="1072.6" y="1063.9" width="37.2" height="182.1"/>
<rect class="bar" x="1113.5" y="1033.7" width="37.2" height="212.3"/>
<rect class="bar" x="1154.4" y="1011.8" width="37.2" height="234.2"/>
<rect class="bar" x="1195.3" y="993.4" width="37.2" height="252.6"/>
<rect class="bar" x="1236.2" y="979.6" width="37.2" height="266.4"/>

<g clip-path="url(#cb0)">
<text class="bl" transform="translate(150,1060.2) rotate(45)" y="8.3" textLength="48" lengthAdjust="spacingAndGlyphs">853</text>
<text class="bl" transform="translate(190.9,1033.3) rotate(45)" y="8.3" textLength="48" lengthAdjust="spacingAndGlyphs">983</text>
<text class="bl" transform="translate(231.8,1010.6) rotate(45)" y="8.3" textLength="63" lengthAdjust="spacingAndGlyphs">1093</text>
<text class="bl" transform="translate(272.7,990.1) rotate(45)" y="8.3" textLength="63" lengthAdjust="spacingAndGlyphs">1192</text>
<text class="bl" transform="translate(313.6,970.1) rotate(45)" y="8.3" textLength="63" lengthAdjust="spacingAndGlyphs">1289</text>
</g>
<g clip-path="url(#cb1)">
<text class="bl" transform="translate(385.3,1056.7) rotate(45)" y="8.3" textLength="48" lengthAdjust="spacingAndGlyphs">870</text>
<text class="bl" transform="translate(426.2,1027.5) rotate(45)" y="8.3" textLength="63" lengthAdjust="spacingAndGlyphs">1011</text>
<text class="bl" transform="translate(467.1,1003.3) rotate(45)" y="8.3" textLength="63" lengthAdjust="spacingAndGlyphs">1128</text>
<text class="bl" transform="translate(508,984.1) rotate(45)" y="8.3" textLength="63" lengthAdjust="spacingAndGlyphs">1221</text>
<text class="bl" transform="translate(548.9,970.1) rotate(45)" y="8.3" textLength="63" lengthAdjust="spacingAndGlyphs">1289</text>
</g>
<g clip-path="url(#cb2)">
<text class="bl" transform="translate(620.6,1056.9) rotate(45)" y="8.3" textLength="48" lengthAdjust="spacingAndGlyphs">869</text>
<text class="bl" transform="translate(661.5,1027.1) rotate(45)" y="8.3" textLength="63" lengthAdjust="spacingAndGlyphs">1013</text>
<text class="bl" transform="translate(702.4,1007.3) rotate(45)" y="8.3" textLength="63" lengthAdjust="spacingAndGlyphs">1109</text>
<text class="bl" transform="translate(743.3,984.7) rotate(45)" y="8.3" textLength="63" lengthAdjust="spacingAndGlyphs">1218</text>
<text class="bl" transform="translate(784.2,970.1) rotate(45)" y="8.3" textLength="63" lengthAdjust="spacingAndGlyphs">1289</text>
</g>
<g clip-path="url(#cb3)">
<text class="bl" transform="translate(855.9,1052.1) rotate(45)" y="8.3" textLength="48" lengthAdjust="spacingAndGlyphs">892</text>
<text class="bl" transform="translate(896.8,1021.7) rotate(45)" y="8.3" textLength="63" lengthAdjust="spacingAndGlyphs">1039</text>
<text class="bl" transform="translate(937.7,1001.7) rotate(45)" y="8.3" textLength="63" lengthAdjust="spacingAndGlyphs">1136</text>
<text class="bl" transform="translate(978.6,983.5) rotate(45)" y="8.3" textLength="63" lengthAdjust="spacingAndGlyphs">1224</text>
<text class="bl" transform="translate(1019.5,970.1) rotate(45)" y="8.3" textLength="63" lengthAdjust="spacingAndGlyphs">1289</text>
</g>
<g clip-path="url(#cb4)">
<text class="bl" transform="translate(1091.2,1054.4) rotate(45)" y="8.3" textLength="48" lengthAdjust="spacingAndGlyphs">881</text>
<text class="bl" transform="translate(1132.1,1024.2) rotate(45)" y="8.3" textLength="63" lengthAdjust="spacingAndGlyphs">1027</text>
<text class="bl" transform="translate(1173,1002.3) rotate(45)" y="8.3" textLength="63" lengthAdjust="spacingAndGlyphs">1133</text>
<text class="bl" transform="translate(1213.9,983.9) rotate(45)" y="8.3" textLength="63" lengthAdjust="spacingAndGlyphs">1222</text>
<text class="bl" transform="translate(1254.8,970.1) rotate(45)" y="8.3" textLength="63" lengthAdjust="spacingAndGlyphs">1289</text>
</g>

<path class="ax" d="M121.7,954V1260.6 M114.7,1040H121.7 M114.7,1143.3H121.7 M114.7,1246H121.7"/>
<path class="ax" d="M120.4,1259.3H343.8 M357,1259.3H579.1 M592.3,1259.3H814.4 M827.6,1259.3H1049.7 M1062.9,1259.3H1285"/>
<path class="ax" d="M150,1259.3v7 M190.9,1259.3v7 M231.8,1259.3v7 M272.7,1259.3v7 M313.6,1259.3v7 M385.3,1259.3v7 M426.2,1259.3v7 M467.1,1259.3v7 M508,1259.3v7 M548.9,1259.3v7 M620.6,1259.3v7 M661.5,1259.3v7 M702.4,1259.3v7 M743.3,1259.3v7 M784.2,1259.3v7 M855.9,1259.3v7 M896.8,1259.3v7 M937.7,1259.3v7 M978.6,1259.3v7 M1019.5,1259.3v7 M1091.2,1259.3v7 M1132.1,1259.3v7 M1173,1259.3v7 M1213.9,1259.3v7 M1254.8,1259.3v7"/>
<g class="t18 e">
<text x="107.7" y="1047.4" textLength="58.5" lengthAdjust="spacingAndGlyphs">1000</text>
<text x="107.7" y="1150.7" textLength="44" lengthAdjust="spacingAndGlyphs">500</text>
<text x="107.7" y="1253.4" textLength="14.5" lengthAdjust="spacingAndGlyphs">0</text>
</g>
<g class="t18 m">
<text x="150" y="1290.5" textLength="14.5" lengthAdjust="spacingAndGlyphs">0</text>
<text x="190.9" y="1290.5" textLength="14.5" lengthAdjust="spacingAndGlyphs">1</text>
<text x="231.8" y="1290.5" textLength="14.5" lengthAdjust="spacingAndGlyphs">2</text>
<text x="272.7" y="1290.5" textLength="14.5" lengthAdjust="spacingAndGlyphs">3</text>
<text x="313.6" y="1290.5" textLength="14.5" lengthAdjust="spacingAndGlyphs">4</text>
<text x="385.3" y="1290.5" textLength="14.5" lengthAdjust="spacingAndGlyphs">0</text>
<text x="426.2" y="1290.5" textLength="14.5" lengthAdjust="spacingAndGlyphs">1</text>
<text x="467.1" y="1290.5" textLength="14.5" lengthAdjust="spacingAndGlyphs">2</text>
<text x="508" y="1290.5" textLength="14.5" lengthAdjust="spacingAndGlyphs">3</text>
<text x="548.9" y="1290.5" textLength="14.5" lengthAdjust="spacingAndGlyphs">4</text>
<text x="620.6" y="1290.5" textLength="14.5" lengthAdjust="spacingAndGlyphs">0</text>
<text x="661.5" y="1290.5" textLength="14.5" lengthAdjust="spacingAndGlyphs">1</text>
<text x="702.4" y="1290.5" textLength="14.5" lengthAdjust="spacingAndGlyphs">2</text>
<text x="743.3" y="1290.5" textLength="14.5" lengthAdjust="spacingAndGlyphs">3</text>
<text x="784.2" y="1290.5" textLength="14.5" lengthAdjust="spacingAndGlyphs">4</text>
<text x="855.9" y="1290.5" textLength="14.5" lengthAdjust="spacingAndGlyphs">0</text>
<text x="896.8" y="1290.5" textLength="14.5" lengthAdjust="spacingAndGlyphs">1</text>
<text x="937.7" y="1290.5" textLength="14.5" lengthAdjust="spacingAndGlyphs">2</text>
<text x="978.6" y="1290.5" textLength="14.5" lengthAdjust="spacingAndGlyphs">3</text>
<text x="1019.5" y="1290.5" textLength="14.5" lengthAdjust="spacingAndGlyphs">4</text>
<text x="1091.2" y="1290.5" textLength="14.5" lengthAdjust="spacingAndGlyphs">0</text>
<text x="1132.1" y="1290.5" textLength="14.5" lengthAdjust="spacingAndGlyphs">1</text>
<text x="1173" y="1290.5" textLength="14.5" lengthAdjust="spacingAndGlyphs">2</text>
<text x="1213.9" y="1290.5" textLength="14.5" lengthAdjust="spacingAndGlyphs">3</text>
<text x="1254.8" y="1290.5" textLength="14.5" lengthAdjust="spacingAndGlyphs">4</text>
</g>
<text transform="translate(33,1107.5) rotate(-90)" class="m" style="font-size:23px" textLength="238" lengthAdjust="spacingAndGlyphs">cumulative_sum</text>
<text x="702.8" y="1322.7" class="m" style="font-size:24px" textLength="86" lengthAdjust="spacingAndGlyphs">nrNAs</text>
</g>
</svg>
</body></html>
